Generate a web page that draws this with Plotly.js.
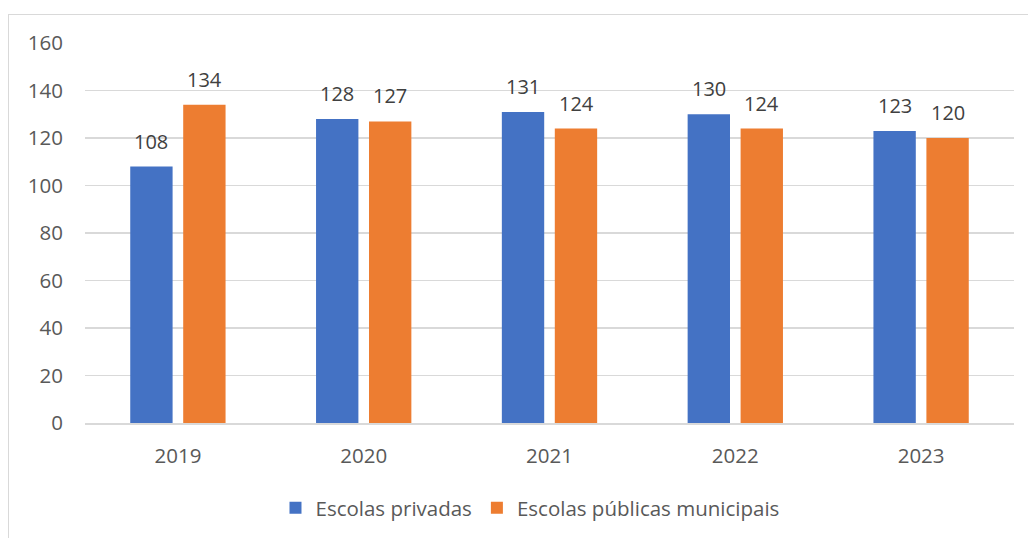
<!DOCTYPE html>
<html>
<head>
<meta charset="utf-8">
<script src="https://cdn.plot.ly/plotly-3.0.1.min.js"></script>
<style>
  html, body { margin: 0; padding: 0; background: #fff; }
  #wrap { position: relative; width: 1028px; height: 538px; overflow: hidden; }
  #frame { position: absolute; left: 8px; top: 14px; width: 1040px; height: 560px; border: 1.5px solid #d9d9d9; box-sizing: border-box; }
  #chart { position: absolute; left: 0; top: 0; width: 1028px; height: 538px; }
</style>
</head>
<body>
<div id="wrap">
  <div id="frame"></div>
  <div id="chart"></div>
</div>
<script>
const categories = ['2019', '2020', '2021', '2022', '2023'];
const privadas = [108, 128, 131, 130, 123];
const publicas = [134, 127, 124, 124, 120];
const seriesNames = ['Escolas privadas', 'Escolas públicas municipais'];
const yTicks = [0, 20, 40, 60, 80, 100, 120, 140, 160];

const fontFam = '"Open Sans", sans-serif';

const traces = [
  { type: 'bar', name: seriesNames[0], x: categories, y: privadas,
    marker: { color: '#4472c4' }, hoverinfo: 'none' },
  { type: 'bar', name: seriesNames[1], x: categories, y: publicas,
    marker: { color: '#ed7d31' }, hoverinfo: 'none' }
];

// data labels above each bar (category index on the category axis, offset half a bar slot)
const labelFont = { family: fontFam, size: 20, color: '#404040' };
const annotations = [];
[privadas, publicas].forEach((vals, si) => {
  vals.forEach((v, i) => {
    annotations.push({
      x: i, y: v, xref: 'x', yref: 'y',
      text: String(v), showarrow: false, yanchor: 'bottom',
      xshift: si === 0 ? -26.5 : 26.5, yshift: 10, font: labelFont
    });
  });
});

const layout = {
  width: 1028, height: 538,
  paper_bgcolor: 'rgba(0,0,0,0)', plot_bgcolor: 'rgba(0,0,0,0)',
  margin: { l: 85, r: 14, t: 43, b: 115 },
  barmode: 'group', bargap: 0.43, bargroupgap: 0.2,
  font: { family: fontFam, size: 20, color: '#595959' },
  xaxis: { type: 'category', categoryarray: categories, range: [-0.5, categories.length - 0.5],
    showgrid: false, showline: true, linecolor: '#d9d9d9', linewidth: 1.5,
    ticks: '', tickfont: { size: 20.5, color: '#595959' }, ticklabelstandoff: 14 },
  yaxis: { range: [0, 160], tickvals: yTicks, ticktext: yTicks.map(String), showgrid: true,
    gridcolor: '#d9d9d9', gridwidth: 1.5, zeroline: false, showline: false, ticks: '',
    tickfont: { size: 20.5, color: '#595959' }, ticklabelstandoff: 21 },
  annotations: annotations,
  showlegend: true,
  legend: { orientation: 'h', x: 0.479, xanchor: 'center', yref: 'container', y: 0.056, yanchor: 'middle',
    font: { size: 20.5, color: '#595959' }, itemwidth: 30, traceorder: 'normal' }
};

Plotly.newPlot('chart', traces, layout, { displayModeBar: false, staticPlot: true });
</script>
</body>
</html>
